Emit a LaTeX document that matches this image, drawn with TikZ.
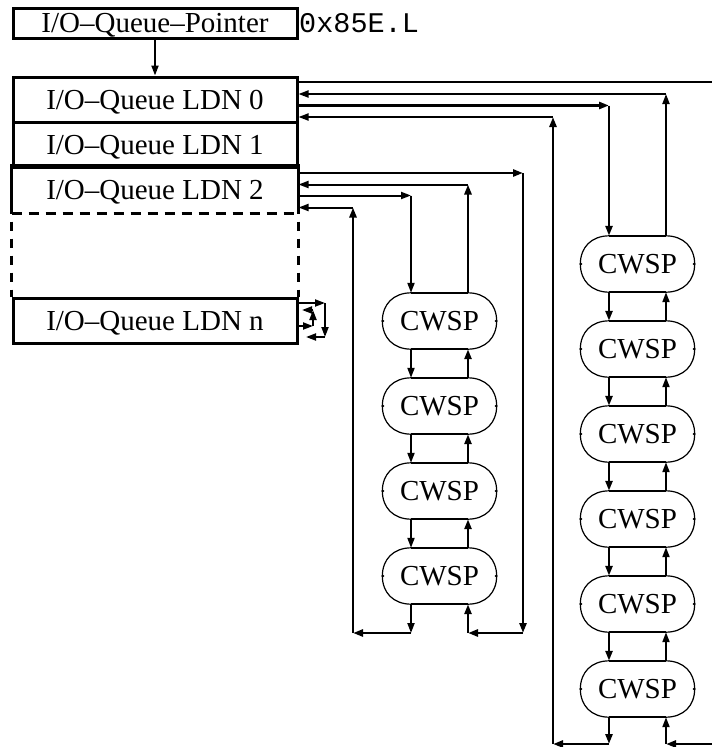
\documentclass[tikz,border=0pt]{standalone}
\usepackage{fontspec}
\setmainfont{Liberation Serif}
\setmonofont{Liberation Mono}
\usetikzlibrary{arrows.meta}

% a CWSP element: straight top and bottom edges, thin rounded ends
\newcommand\cwspbox[3]{%
  \node[cwsp] (#1) at (#2,#3) {CWSP};
  \draw[cwspedge] ([xshift=-28.5pt]#1.north) -- ([xshift=28.5pt]#1.north)
                  ([xshift=-28.5pt]#1.south) -- ([xshift=28.5pt]#1.south);
  \draw[cwsparc] ([xshift=-28.5pt]#1.north)
     .. controls ([shift={(-46pt,28pt)}]#1.center) and ([shift={(-57pt,17pt)}]#1.center) .. (#1.west)
     .. controls ([shift={(-57pt,-17pt)}]#1.center) and ([shift={(-46pt,-28pt)}]#1.center) .. ([xshift=-28.5pt]#1.south);
  \draw[cwsparc] ([xshift=28.5pt]#1.north)
     .. controls ([shift={(46pt,28pt)}]#1.center) and ([shift={(57pt,17pt)}]#1.center) .. (#1.east)
     .. controls ([shift={(57pt,-17pt)}]#1.center) and ([shift={(46pt,-28pt)}]#1.center) .. ([xshift=28.5pt]#1.south);
  \fill ([xshift=0.6pt]#1.west) circle[radius=1.5pt];
  \fill ([xshift=-0.6pt]#1.east) circle[radius=1.5pt];
}

\tikzset{
  lbl/.style={font=\fontsize{29}{31}\selectfont, inner sep=0pt, text height=19pt, text depth=0pt},
  queue/.style={lbl, draw, line width=3pt, minimum width=284pt, minimum height=45pt},
  cwsp/.style={lbl, minimum width=114pt, minimum height=56pt},
  cwspedge/.style={line width=2.5pt},
  cwsparc/.style={line width=1.2pt},
  tip/.style={-{Triangle[length=10pt,width=7pt]}},
  wire/.style={tip, line width=2pt},
  wirebold/.style={tip, line width=2.7pt},
  gapline/.style={line width=2.4pt, dash pattern=on 9pt off 8pt},
}

\begin{document}
\begin{tikzpicture}[x=1pt,y=-1pt]
\useasboundingbox (0,0) rectangle (712,747);

% pointer and queue headers
\node[queue, minimum height=30pt] (ptr) at (155,23) {I/O–Queue–Pointer};
\node[anchor=base west, inner sep=0pt, font=\fontsize{28.5}{30}\ttfamily] (addr) at (299,32) {0x85E.L};

\node[queue] (l0) at (155,99.5) {I/O–Queue LDN 0};
\node[queue] (l1) at (155,144.5) {I/O–Queue LDN 1};
\node[queue, draw=none] (l2) at (155,189.5) {I/O–Queue LDN 2};
\node[queue] (ln) at (155,320.5) {I/O–Queue LDN n};

\draw[line width=3pt] (l2.south west) -- (l2.north west) -- (l2.north east) -- (l2.south east);
\draw[gapline, line width=2.8pt, dash pattern=on 10pt off 7pt] (l2.south west) -- (l2.south east);
\draw[gapline, dash phase=9pt] (l2.south west) -- (ln.north west);
\draw[gapline, dash phase=9pt] (l2.south east) -- (ln.north east);

\draw[wire] (ptr.south) -- (l0.north);

% CWSP chain of LDN 2
\cwspbox{m1}{439.5}{321}
\cwspbox{m2}{439.5}{406}
\cwspbox{m3}{439.5}{491}
\cwspbox{m4}{439.5}{576}

% CWSP chain of LDN 0
\cwspbox{r1}{637.5}{264}
\cwspbox{r2}{637.5}{349}
\cwspbox{r3}{637.5}{434}
\cwspbox{r4}{637.5}{519}
\cwspbox{r5}{637.5}{604}
\cwspbox{r6}{637.5}{689}

% corners of the LDN 2 ring
\coordinate (mfa) at (411,195.5);
\coordinate (mfb) at (411,633);
\coordinate (mfc) at (353,633);
\coordinate (mfd) at (353,207.5);
\coordinate (mba) at (523,173);
\coordinate (mbb) at (523,633);
\coordinate (mbc) at (468,633);
\coordinate (mbd) at (468,184.5);

% forward links, LDN 2 ring
\draw[wire] (l2.east |- mfa) -- (mfa);
\draw[wire] (mfa) -- ([xshift=-28.5pt]m1.north);
\draw[wire] ([xshift=-28.5pt]m1.south) -- ([xshift=-28.5pt]m2.north);
\draw[wire] ([xshift=-28.5pt]m2.south) -- ([xshift=-28.5pt]m3.north);
\draw[wire] ([xshift=-28.5pt]m3.south) -- ([xshift=-28.5pt]m4.north);
\draw[wire] ([xshift=-28.5pt]m4.south) -- (mfb);
\draw[wirebold] (mfb) -- (mfc);
\draw[wirebold] (mfc) -- (mfd);
\draw[wire] (mfd) -- (l2.east |- mfd);

% backward links, LDN 2 ring
\draw[wirebold] (l2.east |- mba) -- (mba);
\draw[wirebold] (mba) -- (mbb);
\draw[wirebold] (mbb) -- (mbc);
\draw[wirebold] (mbc) -- ([xshift=28.5pt]m4.south);
\draw[wirebold] ([xshift=28.5pt]m4.north) -- ([xshift=28.5pt]m3.south);
\draw[wirebold] ([xshift=28.5pt]m3.north) -- ([xshift=28.5pt]m2.south);
\draw[wirebold] ([xshift=28.5pt]m2.north) -- ([xshift=28.5pt]m1.south);
\draw[wirebold] ([xshift=28.5pt]m1.north) -- (mbd);
\draw[wire] (mbd) -- (l2.east |- mbd);

% corners of the LDN 0 ring
\coordinate (rfa) at (609,105.5);
\coordinate (rfb) at (609,744);
\coordinate (rfc) at (553,744);
\coordinate (rfd) at (553,117);
\coordinate (rba) at (714,82);
\coordinate (rbe) at (714,744);
\coordinate (rbf) at (666,744);
\coordinate (rbd) at (666,94);

% forward links, LDN 0 ring
\draw[wirebold] (l0.east |- rfa) -- (rfa);
\draw[wirebold] (rfa) -- ([xshift=-28.5pt]r1.north);
\draw[wirebold] ([xshift=-28.5pt]r1.south) -- ([xshift=-28.5pt]r2.north);
\draw[wirebold] ([xshift=-28.5pt]r2.south) -- ([xshift=-28.5pt]r3.north);
\draw[wirebold] ([xshift=-28.5pt]r3.south) -- ([xshift=-28.5pt]r4.north);
\draw[wirebold] ([xshift=-28.5pt]r4.south) -- ([xshift=-28.5pt]r5.north);
\draw[wirebold] ([xshift=-28.5pt]r5.south) -- ([xshift=-28.5pt]r6.north);
\draw[wirebold] ([xshift=-28.5pt]r6.south) -- (rfb);
\draw[wirebold] (rfb) -- (rfc);
\draw[wirebold] (rfc) -- (rfd);
\draw[wire] (rfd) -- (l0.east |- rfd);

% backward links, LDN 0 ring
\draw[line width=2.7pt] (l0.east |- rba) -- (rba);
\draw[wirebold] (rbe) -- (rbf);
\draw[wire] (rbf) -- ([xshift=28.5pt]r6.south);
\draw[wire] ([xshift=28.5pt]r6.north) -- ([xshift=28.5pt]r5.south);
\draw[wire] ([xshift=28.5pt]r5.north) -- ([xshift=28.5pt]r4.south);
\draw[wire] ([xshift=28.5pt]r4.north) -- ([xshift=28.5pt]r3.south);
\draw[wire] ([xshift=28.5pt]r3.north) -- ([xshift=28.5pt]r2.south);
\draw[wire] ([xshift=28.5pt]r2.north) -- ([xshift=28.5pt]r1.south);
\draw[wire] ([xshift=28.5pt]r1.north) -- (rbd);
\draw[wire] (rbd) -- (l0.east |- rbd);

% empty queue LDN n: both links point back to itself
\coordinate (sa) at (325,303);
\coordinate (sb) at (325,337);
\coordinate (sc) at (306,337);
\coordinate (sd) at (313,326);
\coordinate (se) at (313,310);
\coordinate (sf) at (302,310);
\draw[wire] (ln.east |- sa) -- (sa);
\draw[wire] (sa) -- (sb);
\draw[wire] (sb) -- (sc);
\draw[wire] (ln.east |- sd) -- (sd);
\draw[wire] (sd) -- (se);
\draw[wire] (se) -- (sf);
\end{tikzpicture}
\end{document}
